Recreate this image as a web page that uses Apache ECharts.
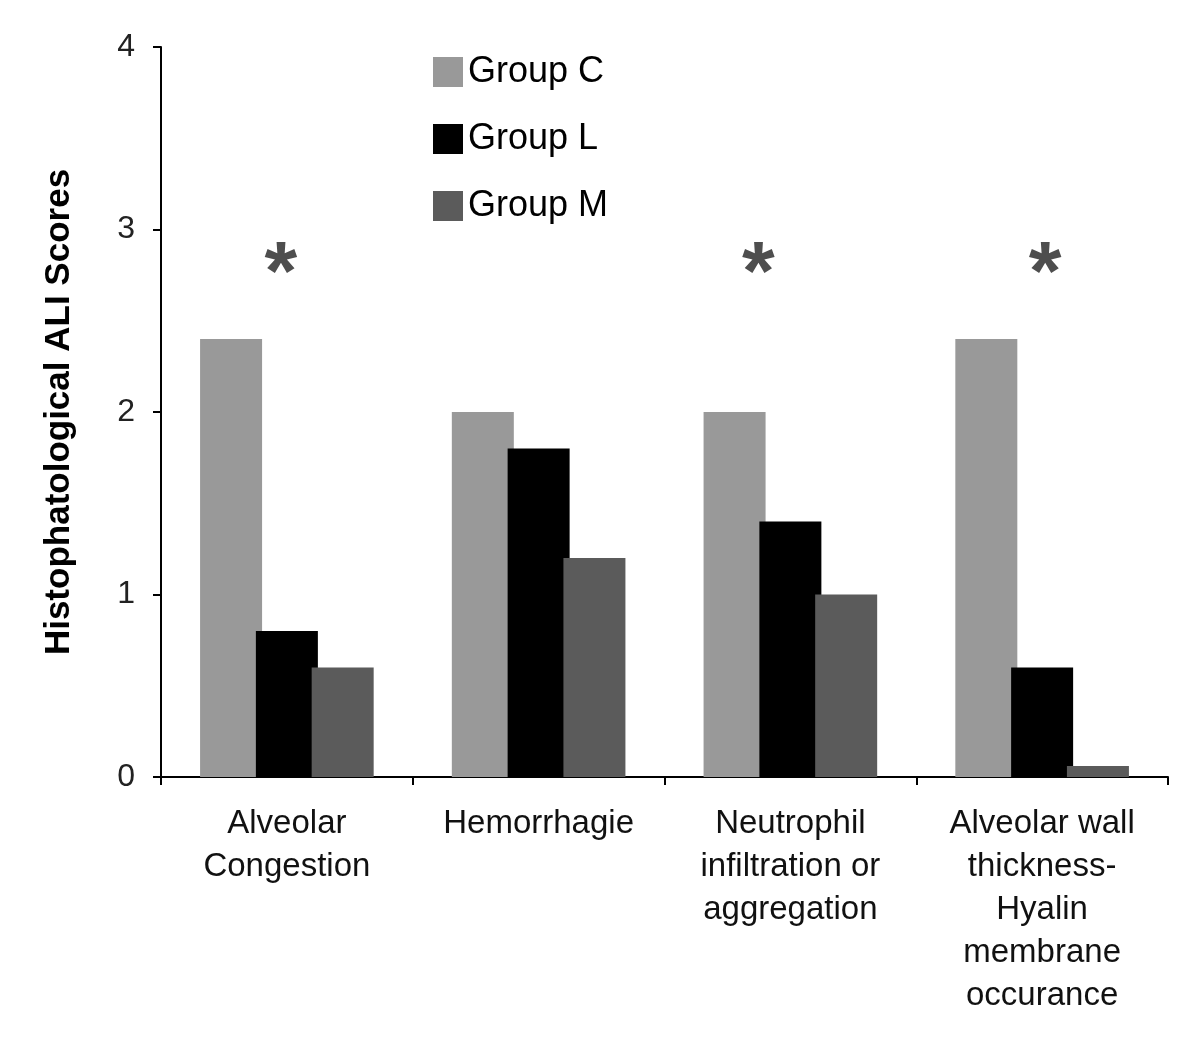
<!DOCTYPE html>
<html>
<head>
<meta charset="utf-8">
<script src="https://cdn.jsdelivr.net/npm/echarts@6/dist/echarts.min.js"></script>
<style>
html,body{margin:0;padding:0;background:#fff;}
#chart{width:1200px;height:1041px;}
</style>
</head>
<body>
<div id="chart"></div>
<script>
var categories = ['Alveolar\nCongestion', 'Hemorrhagie', 'Neutrophil\ninfiltration or\naggregation', 'Alveolar wall\nthickness-\nHyalin\nmembrane\noccurance'];
var groupC = [2.4, 2.0, 2.0, 2.4];
var groupL = [0.8, 1.8, 1.4, 0.6];
var groupM = [0.6, 1.2, 1.0, 0.06];
var yTicks = [0, 1, 2, 3, 4];
var significance = ['*', '', '*', '*'];
var sigLevel = 2.82;

var font = 'Liberation Sans, Arial, sans-serif';
var chart = echarts.init(document.getElementById('chart'), null, {renderer: 'canvas'});

var sigData = categories.map(function (c, i) {
  return significance[i] ? {value: [c, sigLevel], label: {offset: [i === 2 ? -32 : (i === 0 ? -6 : 3), 14]}} : null;
}).filter(function (d) { return d; });

chart.setOption({
  animation: false,
  backgroundColor: '#fff',
  grid: {left: 161, right: 32, top: 47, bottom: 264, containLabel: false},
  legend: {
    data: ['Group C', 'Group L', 'Group M'],
    orient: 'vertical',
    left: 428,
    top: 49,
    itemWidth: 30,
    itemHeight: 30,
    itemGap: 31,
    icon: 'rect',
    textStyle: {fontFamily: font, fontSize: 36, color: '#000', lineHeight: 30, padding: [0, 0, 0, 0]}
  },
  xAxis: {
    type: 'category',
    data: categories,
    axisLine: {lineStyle: {color: '#000', width: 2}},
    axisTick: {show: true, length: 8, lineStyle: {color: '#000', width: 2}},
    axisLabel: {fontFamily: font, fontSize: 33, color: '#111', lineHeight: 43, margin: 25, interval: 0}
  },
  yAxis: {
    type: 'value',
    min: 0, max: 4, interval: 1,
    name: 'Histophatological ALI Scores',
    nameLocation: 'middle',
    nameGap: 84,
    nameRotate: 90,
    nameTextStyle: {fontFamily: font, fontSize: 35, fontWeight: 'bold', color: '#000'},
    axisLine: {show: true, lineStyle: {color: '#000', width: 2}},
    axisTick: {show: true, length: 8, lineStyle: {color: '#000', width: 2}},
    splitLine: {show: false},
    axisLabel: {fontFamily: font, fontSize: 32, color: '#222', margin: 26,
      formatter: function (v) { return yTicks.indexOf(v) >= 0 ? String(v) : ''; }}
  },
  series: [
    {name: 'Group C', type: 'bar', data: groupC, barWidth: 62, barGap: '-10%', itemStyle: {color: '#999999'}},
    {name: 'Group L', type: 'bar', data: groupL, barWidth: 62, barGap: '-10%', itemStyle: {color: '#000000'}},
    {name: 'Group M', type: 'bar', data: groupM, barWidth: 62, barGap: '-10%', itemStyle: {color: '#5b5b5b'}},
    {name: 'sig', type: 'scatter', data: sigData, symbolSize: 1, itemStyle: {color: 'rgba(0,0,0,0)'},
      label: {show: true, position: 'inside', formatter: '*', fontFamily: font, fontSize: 84, fontWeight: 'bold', color: '#222'},
      silent: true}
  ]
});
</script>
</body>
</html>
